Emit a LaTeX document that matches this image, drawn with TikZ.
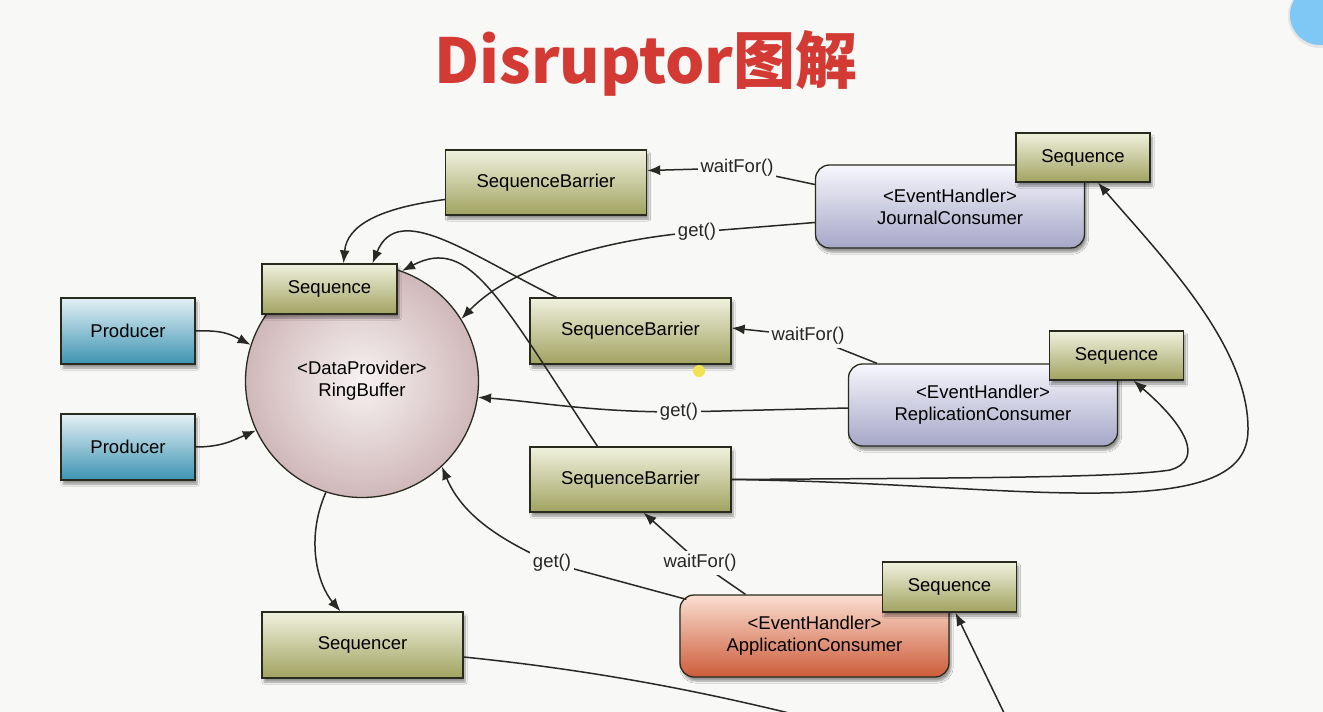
\documentclass[tikz,border=0pt]{standalone}
\usepackage{fontspec}
\setmainfont{Liberation Sans}
\newfontfamily\cjk{Noto Sans CJK SC}
\usetikzlibrary{arrows.meta,shadows.blur}
\definecolor{bg}{RGB}{248,248,246}
\definecolor{edge}{RGB}{40,40,36}
\definecolor{boxline}{RGB}{40,42,30}
\definecolor{olivetop}{RGB}{240,241,222}
\definecolor{olivebot}{RGB}{160,163,96}
\definecolor{prodtop}{RGB}{228,240,245}
\definecolor{prodbot}{RGB}{60,148,178}
\definecolor{constop}{RGB}{247,247,252}
\definecolor{consbot}{RGB}{166,166,200}
\definecolor{apptop}{RGB}{250,222,208}
\definecolor{appbot}{RGB}{205,92,58}
\definecolor{ringin}{RGB}{247,242,242}
\definecolor{ringout}{RGB}{208,184,186}
\definecolor{titlered}{RGB}{212,58,52}
\definecolor{cornerblue}{RGB}{125,200,245}
\definecolor{cursordot}{RGB}{240,226,80}
\tikzset{
  lab/.style={font=\fontsize{18.5}{22}\selectfont},
  shadowed/.style={blur shadow={shadow xshift=2pt,shadow yshift=-4pt,shadow blur steps=6,shadow opacity=40}},
  box/.style={lab,draw=boxline,line width=1.3pt,inner sep=0pt,shadowed},
  olivebox/.style={box,top color=olivetop,bottom color=olivebot},
  barrier/.style={olivebox,minimum width=201pt,minimum height=66pt},
  seqbox/.style={olivebox,minimum width=134pt,minimum height=49pt},
  prodbox/.style={box,top color=prodtop,bottom color=prodbot,minimum width=134pt,minimum height=66pt},
  consbox/.style={box,rounded corners=14pt,align=center,minimum width=269pt,minimum height=82pt,top color=constop,bottom color=consbot},
  appbox/.style={consbox,top color=apptop,bottom color=appbot},
  ringnode/.style={circle,lab,align=center,draw=boxline,line width=1.3pt,minimum size=233pt,inner sep=0pt,inner color=ringin,outer color=ringout},
  arr/.style={draw=edge,line width=1.5pt,-{Latex[length=13pt,width=10pt]}},
  lbl/.style={lab,fill=bg,inner sep=3pt,text=black!85}
}
\begin{document}
\begin{tikzpicture}[x=1pt,y=1pt]
\useasboundingbox (0,0) rectangle (1323,-712);
\clip (0,0) rectangle (1323,-712);
\fill[bg] (0,0) rectangle (1323,-712);
% corner artefacts
\fill[white!90!black] (1320,-16) circle (32);
\fill[cornerblue] (1320,-15) circle (30);
% title
\node[text=titlered,font=\cjk\bfseries\fontsize{62}{68}\selectfont] (title) at (646,-63) {Disruptor图解};
% ring buffer
\node[ringnode] (ring) at (362,-381) {<DataProvider>\\RingBuffer};
\node[seqbox,minimum width=135pt,minimum height=50pt] (seq) at (329.5,-289) {Sequence};
% producers
\node[prodbox] (p1) at (128,-331) {Producer};
\node[prodbox] (p2) at (128,-447) {Producer};
% barriers
\node[barrier,minimum height=65pt] (sb1) at (546,-182.5) {SequenceBarrier};
\node[barrier] (sb2) at (630.5,-331) {SequenceBarrier};
\node[barrier,minimum height=65pt] (sb3) at (630.5,-479.5) {SequenceBarrier};
\node[barrier] (sq) at (362.5,-645) {Sequencer};
% consumers
\node[consbox,minimum height=83pt] (jc) at (950,-206.5) {<EventHandler>\\JournalConsumer};
\node[seqbox] (js) at (1083,-157.5) {Sequence};
\node[consbox] (rc) at (983,-405) {<EventHandler>\\ReplicationConsumer};
\node[seqbox] (rs) at (1116.5,-355.5) {Sequence};
\node[appbox] (ac) at (814.5,-636) {<EventHandler>\\ApplicationConsumer};
\node[seqbox,minimum height=50pt] (acs) at (949.5,-587) {Sequence};
% cursor highlight
\fill[cursordot] (699,-371) circle (6);
% producer arrows
\draw[arr] (p1.east) .. controls (222,-330) and (230,-334) .. (ring.162);
\draw[arr] (p2.east) .. controls (222,-447) and (234,-440) .. (ring.205);
% barrier -> sequences
\draw[arr] ([yshift=-17pt]sb1.west) .. controls (380,-208) and (347,-225) .. ([xshift=14pt]seq.north);
\draw[arr] ([xshift=-74pt]sb2.north) .. controls (470,-255) and (398,-200) .. ([xshift=43pt]seq.north);
\draw[arr] ([xshift=-33pt]sb3.north) .. controls (500,-300) and (470,-235) .. (ring.70);
% journal consumer
\draw[arr] ([yshift=22pt]jc.west) -- (737,-168) node[lbl] {waitFor()} -- ([yshift=12pt]sb1.east);
\draw[arr] ([yshift=-16pt]jc.west) -- (697,-232) node[lbl] {get()} .. controls (600,-240) and (510,-268) .. (ring.32);
% replication consumer
\draw[arr] ([xshift=-106pt]rc.north) -- (808,-336) node[lbl] {waitFor()} -- ([yshift=3pt]sb2.east);
\draw[arr] ([yshift=-3pt]rc.west) -- (679,-412) node[lbl] {get()} .. controls (590,-412) and (540,-402) .. (ring.-8);
% application consumer
\draw[arr] ([xshift=-69pt]ac.north) -- (700,-563) node[lbl] {waitFor()} -- ([xshift=13pt]sb3.south);
\draw[arr] ([shift={(7pt,-5pt)}]ac.north west) -- (552,-563) node[lbl] {get()} .. controls (500,-540) and (462,-515) .. (ring.-47);
% ring -> sequencer
\draw[arr] (ring.-108) .. controls (305,-540) and (318,-585) .. ([xshift=-22pt]sq.north);
% barrier -> consumer sequences
\draw[arr] (sb3.east) .. controls (950,-478) and (1120,-478) .. (1170,-470) .. controls (1205,-460) and (1185,-425) .. ([xshift=17pt]rs.south);
\draw[arr] (sb3.east) .. controls (900,-482) and (1000,-494) .. (1100,-493) .. controls (1200,-492) and (1248,-475) .. (1248,-430) .. controls (1249,-345) and (1160,-255) .. ([xshift=15pt]js.south);
% sequencer -> application sequence
\draw[arr] ([yshift=-12pt]sq.east) .. controls (740,-685) and (880,-745) .. (980,-755) .. controls (1005,-752) and (1012,-735) .. (1005,-715) -- ([xshift=6pt]acs.south);
\end{tikzpicture}
\end{document}
